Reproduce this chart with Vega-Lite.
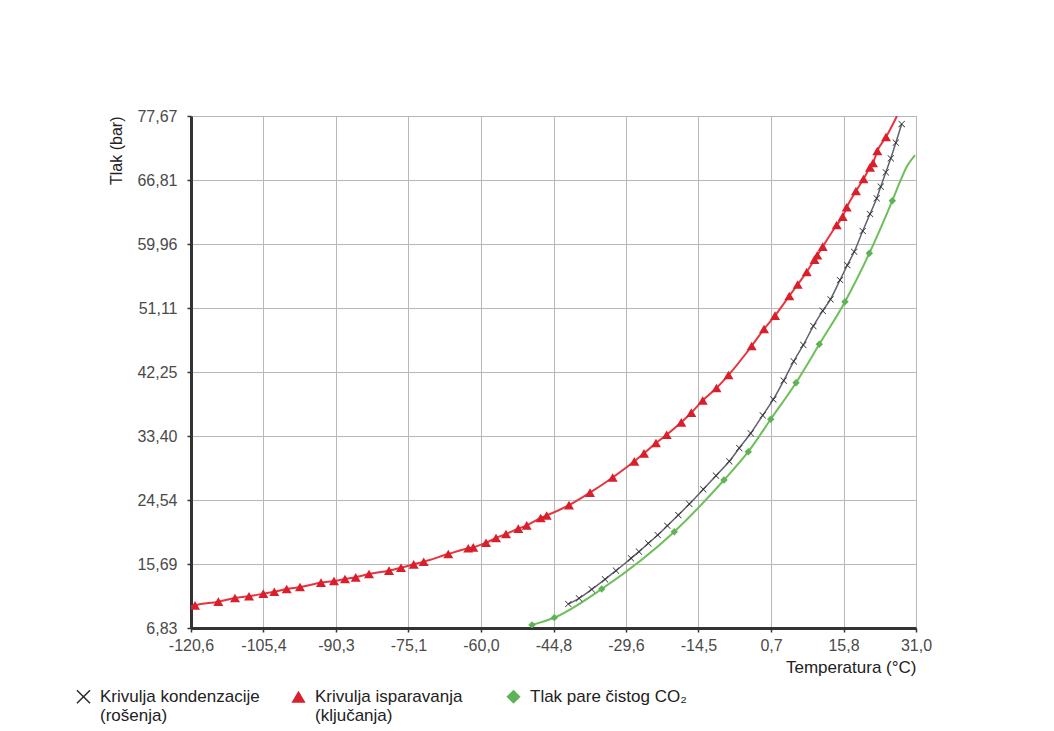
{
  "$schema": "https://vega.github.io/schema/vega-lite/v6.json",
  "width": 725,
  "height": 512,
  "autosize": "none",
  "padding": {"left": 191, "top": 116, "right": 138, "bottom": 103},
  "background": "white",
  "config": {
    "view": {"stroke": "#b8b8b8", "strokeWidth": 1},
    "font": "Liberation Sans",
    "axis": {
      "labelFont": "Liberation Sans",
      "labelFontSize": 16,
      "labelColor": "#4a4a4a",
      "titleFont": "Liberation Sans",
      "titleFontSize": 16,
      "titleFontWeight": "normal",
      "titleColor": "#222222",
      "domainColor": "#333333",
      "domainWidth": 3,
      "tickColor": "#333333",
      "tickSize": 4,
      "tickWidth": 1.5,
      "gridColor": "#b8b8b8",
      "gridWidth": 1,
      "gridOpacity": 1
    }
  },
  "datasets": {
    "curves": [
      {"series": "isparavanje", "T": -120.6, "P": 9.8},
      {"series": "isparavanje", "T": -119.76, "P": 9.97},
      {"series": "isparavanje", "T": -114.89, "P": 10.47},
      {"series": "isparavanje", "T": -111.4, "P": 10.98},
      {"series": "isparavanje", "T": -108.47, "P": 11.22},
      {"series": "isparavanje", "T": -105.48, "P": 11.58},
      {"series": "isparavanje", "T": -103.18, "P": 11.85},
      {"series": "isparavanje", "T": -100.59, "P": 12.23},
      {"series": "isparavanje", "T": -97.81, "P": 12.5},
      {"series": "isparavanje", "T": -93.42, "P": 13.1},
      {"series": "isparavanje", "T": -90.7, "P": 13.33},
      {"series": "isparavanje", "T": -88.4, "P": 13.61},
      {"series": "isparavanje", "T": -86.16, "P": 13.84},
      {"series": "isparavanje", "T": -83.38, "P": 14.3},
      {"series": "isparavanje", "T": -79.2, "P": 14.76},
      {"series": "isparavanje", "T": -76.69, "P": 15.17},
      {"series": "isparavanje", "T": -74.03, "P": 15.64},
      {"series": "isparavanje", "T": -71.94, "P": 16.0},
      {"series": "isparavanje", "T": -66.8, "P": 17.07},
      {"series": "isparavanje", "T": -62.62, "P": 17.86},
      {"series": "isparavanje", "T": -61.57, "P": 17.99},
      {"series": "isparavanje", "T": -58.91, "P": 18.63},
      {"series": "isparavanje", "T": -56.82, "P": 19.28},
      {"series": "isparavanje", "T": -54.73, "P": 19.84},
      {"series": "isparavanje", "T": -52.16, "P": 20.57},
      {"series": "isparavanje", "T": -50.4, "P": 21.04},
      {"series": "isparavanje", "T": -47.48, "P": 22.05},
      {"series": "isparavanje", "T": -46.22, "P": 22.4},
      {"series": "isparavanje", "T": -41.56, "P": 23.82},
      {"series": "isparavanje", "T": -37.17, "P": 25.55},
      {"series": "isparavanje", "T": -32.42, "P": 27.65},
      {"series": "isparavanje", "T": -27.9, "P": 29.89},
      {"series": "isparavanje", "T": -25.88, "P": 31.0},
      {"series": "isparavanje", "T": -23.37, "P": 32.43},
      {"series": "isparavanje", "T": -21.13, "P": 33.57},
      {"series": "isparavanje", "T": -18.08, "P": 35.29},
      {"series": "isparavanje", "T": -15.99, "P": 36.62},
      {"series": "isparavanje", "T": -13.6, "P": 38.31},
      {"series": "isparavanje", "T": -10.72, "P": 40.04},
      {"series": "isparavanje", "T": -8.21, "P": 41.83},
      {"series": "isparavanje", "T": -3.36, "P": 45.85},
      {"series": "isparavanje", "T": -0.78, "P": 48.2},
      {"series": "isparavanje", "T": 1.52, "P": 50.04},
      {"series": "isparavanje", "T": 4.51, "P": 52.77},
      {"series": "isparavanje", "T": 6.26, "P": 54.36},
      {"series": "isparavanje", "T": 8.15, "P": 56.09},
      {"series": "isparavanje", "T": 9.78, "P": 57.79},
      {"series": "isparavanje", "T": 10.36, "P": 58.4},
      {"series": "isparavanje", "T": 11.49, "P": 59.59},
      {"series": "isparavanje", "T": 14.42, "P": 62.59},
      {"series": "isparavanje", "T": 15.67, "P": 63.74},
      {"series": "isparavanje", "T": 16.51, "P": 65.04},
      {"series": "isparavanje", "T": 18.45, "P": 67.29},
      {"series": "isparavanje", "T": 20.02, "P": 68.95},
      {"series": "isparavanje", "T": 21.38, "P": 70.57},
      {"series": "isparavanje", "T": 22.01, "P": 71.17},
      {"series": "isparavanje", "T": 22.91, "P": 72.83},
      {"series": "isparavanje", "T": 24.73, "P": 74.76},
      {"series": "isparavanje", "T": 27.03, "P": 77.67},
      {"series": "kondenzacija", "T": -41.7, "P": 10.15},
      {"series": "kondenzacija", "T": -39.47, "P": 10.94},
      {"series": "kondenzacija", "T": -36.81, "P": 12.18},
      {"series": "kondenzacija", "T": -34.03, "P": 13.57},
      {"series": "kondenzacija", "T": -31.73, "P": 14.76},
      {"series": "kondenzacija", "T": -28.59, "P": 16.47},
      {"series": "kondenzacija", "T": -26.92, "P": 17.39},
      {"series": "kondenzacija", "T": -24.98, "P": 18.55},
      {"series": "kondenzacija", "T": -23.01, "P": 19.7},
      {"series": "kondenzacija", "T": -21.0, "P": 20.98},
      {"series": "kondenzacija", "T": -18.7, "P": 22.46},
      {"series": "kondenzacija", "T": -16.4, "P": 23.99},
      {"series": "kondenzacija", "T": -13.48, "P": 26.02},
      {"series": "kondenzacija", "T": -10.82, "P": 27.9},
      {"series": "kondenzacija", "T": -8.04, "P": 29.89},
      {"series": "kondenzacija", "T": -5.95, "P": 31.73},
      {"series": "kondenzacija", "T": -3.56, "P": 33.77},
      {"series": "kondenzacija", "T": -1.05, "P": 36.26},
      {"series": "kondenzacija", "T": 1.16, "P": 38.45},
      {"series": "kondenzacija", "T": 3.34, "P": 41.07},
      {"series": "kondenzacija", "T": 5.43, "P": 43.73},
      {"series": "kondenzacija", "T": 7.44, "P": 45.99},
      {"series": "kondenzacija", "T": 9.53, "P": 48.61},
      {"series": "kondenzacija", "T": 11.49, "P": 50.72},
      {"series": "kondenzacija", "T": 13.12, "P": 52.31},
      {"series": "kondenzacija", "T": 15.11, "P": 54.98},
      {"series": "kondenzacija", "T": 16.64, "P": 57.03},
      {"series": "kondenzacija", "T": 18.08, "P": 58.89},
      {"series": "kondenzacija", "T": 19.86, "P": 61.76},
      {"series": "kondenzacija", "T": 21.38, "P": 64.11},
      {"series": "kondenzacija", "T": 22.78, "P": 66.28},
      {"series": "kondenzacija", "T": 23.62, "P": 67.89},
      {"series": "kondenzacija", "T": 24.69, "P": 69.88},
      {"series": "kondenzacija", "T": 25.73, "P": 71.82},
      {"series": "kondenzacija", "T": 26.78, "P": 73.98},
      {"series": "kondenzacija", "T": 28.01, "P": 76.56},
      {"series": "CO2", "T": -49.3, "P": 7.25},
      {"series": "CO2", "T": -44.63, "P": 8.26},
      {"series": "CO2", "T": -34.72, "P": 12.23},
      {"series": "CO2", "T": -19.54, "P": 20.15},
      {"series": "CO2", "T": -9.15, "P": 27.31},
      {"series": "CO2", "T": -4.07, "P": 31.22},
      {"series": "CO2", "T": 0.62, "P": 35.71},
      {"series": "CO2", "T": 5.91, "P": 40.77},
      {"series": "CO2", "T": 10.78, "P": 46.08},
      {"series": "CO2", "T": 16.15, "P": 51.98},
      {"series": "CO2", "T": 21.24, "P": 58.67},
      {"series": "CO2", "T": 26.05, "P": 65.95},
      {"series": "CO2", "T": 27.66, "P": 68.58},
      {"series": "CO2", "T": 29.06, "P": 70.65},
      {"series": "CO2", "T": 30.79, "P": 72.27}
    ],
    "points": [
      {"series": "isparavanje", "T": -119.76, "P": 9.97},
      {"series": "isparavanje", "T": -114.89, "P": 10.47},
      {"series": "isparavanje", "T": -111.4, "P": 10.98},
      {"series": "isparavanje", "T": -108.47, "P": 11.22},
      {"series": "isparavanje", "T": -105.48, "P": 11.58},
      {"series": "isparavanje", "T": -103.18, "P": 11.85},
      {"series": "isparavanje", "T": -100.59, "P": 12.23},
      {"series": "isparavanje", "T": -97.81, "P": 12.5},
      {"series": "isparavanje", "T": -93.42, "P": 13.1},
      {"series": "isparavanje", "T": -90.7, "P": 13.33},
      {"series": "isparavanje", "T": -88.4, "P": 13.61},
      {"series": "isparavanje", "T": -86.16, "P": 13.84},
      {"series": "isparavanje", "T": -83.38, "P": 14.3},
      {"series": "isparavanje", "T": -79.2, "P": 14.76},
      {"series": "isparavanje", "T": -76.69, "P": 15.17},
      {"series": "isparavanje", "T": -74.03, "P": 15.64},
      {"series": "isparavanje", "T": -71.94, "P": 16.0},
      {"series": "isparavanje", "T": -66.8, "P": 17.07},
      {"series": "isparavanje", "T": -62.62, "P": 17.86},
      {"series": "isparavanje", "T": -61.57, "P": 17.99},
      {"series": "isparavanje", "T": -58.91, "P": 18.63},
      {"series": "isparavanje", "T": -56.82, "P": 19.28},
      {"series": "isparavanje", "T": -54.73, "P": 19.84},
      {"series": "isparavanje", "T": -52.16, "P": 20.57},
      {"series": "isparavanje", "T": -50.4, "P": 21.04},
      {"series": "isparavanje", "T": -47.48, "P": 22.05},
      {"series": "isparavanje", "T": -46.22, "P": 22.4},
      {"series": "isparavanje", "T": -41.56, "P": 23.82},
      {"series": "isparavanje", "T": -37.17, "P": 25.55},
      {"series": "isparavanje", "T": -32.42, "P": 27.65},
      {"series": "isparavanje", "T": -27.9, "P": 29.89},
      {"series": "isparavanje", "T": -25.88, "P": 31.0},
      {"series": "isparavanje", "T": -23.37, "P": 32.43},
      {"series": "isparavanje", "T": -21.13, "P": 33.57},
      {"series": "isparavanje", "T": -18.08, "P": 35.29},
      {"series": "isparavanje", "T": -15.99, "P": 36.62},
      {"series": "isparavanje", "T": -13.6, "P": 38.31},
      {"series": "isparavanje", "T": -10.72, "P": 40.04},
      {"series": "isparavanje", "T": -8.21, "P": 41.83},
      {"series": "isparavanje", "T": -3.36, "P": 45.85},
      {"series": "isparavanje", "T": -0.78, "P": 48.2},
      {"series": "isparavanje", "T": 1.52, "P": 50.04},
      {"series": "isparavanje", "T": 4.51, "P": 52.77},
      {"series": "isparavanje", "T": 6.26, "P": 54.36},
      {"series": "isparavanje", "T": 8.15, "P": 56.09},
      {"series": "isparavanje", "T": 9.78, "P": 57.79},
      {"series": "isparavanje", "T": 10.36, "P": 58.4},
      {"series": "isparavanje", "T": 11.49, "P": 59.59},
      {"series": "isparavanje", "T": 14.42, "P": 62.59},
      {"series": "isparavanje", "T": 15.67, "P": 63.74},
      {"series": "isparavanje", "T": 16.51, "P": 65.04},
      {"series": "isparavanje", "T": 18.45, "P": 67.29},
      {"series": "isparavanje", "T": 20.02, "P": 68.95},
      {"series": "isparavanje", "T": 21.38, "P": 70.57},
      {"series": "isparavanje", "T": 22.01, "P": 71.17},
      {"series": "isparavanje", "T": 22.91, "P": 72.83},
      {"series": "isparavanje", "T": 24.73, "P": 74.76},
      {"series": "kondenzacija", "T": -41.7, "P": 10.15},
      {"series": "kondenzacija", "T": -39.47, "P": 10.94},
      {"series": "kondenzacija", "T": -36.81, "P": 12.18},
      {"series": "kondenzacija", "T": -34.03, "P": 13.57},
      {"series": "kondenzacija", "T": -31.73, "P": 14.76},
      {"series": "kondenzacija", "T": -28.59, "P": 16.47},
      {"series": "kondenzacija", "T": -26.92, "P": 17.39},
      {"series": "kondenzacija", "T": -24.98, "P": 18.55},
      {"series": "kondenzacija", "T": -23.01, "P": 19.7},
      {"series": "kondenzacija", "T": -21.0, "P": 20.98},
      {"series": "kondenzacija", "T": -18.7, "P": 22.46},
      {"series": "kondenzacija", "T": -16.4, "P": 23.99},
      {"series": "kondenzacija", "T": -13.48, "P": 26.02},
      {"series": "kondenzacija", "T": -10.82, "P": 27.9},
      {"series": "kondenzacija", "T": -8.04, "P": 29.89},
      {"series": "kondenzacija", "T": -5.95, "P": 31.73},
      {"series": "kondenzacija", "T": -3.56, "P": 33.77},
      {"series": "kondenzacija", "T": -1.05, "P": 36.26},
      {"series": "kondenzacija", "T": 1.16, "P": 38.45},
      {"series": "kondenzacija", "T": 3.34, "P": 41.07},
      {"series": "kondenzacija", "T": 5.43, "P": 43.73},
      {"series": "kondenzacija", "T": 7.44, "P": 45.99},
      {"series": "kondenzacija", "T": 9.53, "P": 48.61},
      {"series": "kondenzacija", "T": 11.49, "P": 50.72},
      {"series": "kondenzacija", "T": 13.12, "P": 52.31},
      {"series": "kondenzacija", "T": 15.11, "P": 54.98},
      {"series": "kondenzacija", "T": 16.64, "P": 57.03},
      {"series": "kondenzacija", "T": 18.08, "P": 58.89},
      {"series": "kondenzacija", "T": 19.86, "P": 61.76},
      {"series": "kondenzacija", "T": 21.38, "P": 64.11},
      {"series": "kondenzacija", "T": 22.78, "P": 66.28},
      {"series": "kondenzacija", "T": 23.62, "P": 67.89},
      {"series": "kondenzacija", "T": 24.69, "P": 69.88},
      {"series": "kondenzacija", "T": 25.73, "P": 71.82},
      {"series": "kondenzacija", "T": 26.78, "P": 73.98},
      {"series": "kondenzacija", "T": 28.01, "P": 76.56},
      {"series": "CO2", "T": -49.3, "P": 7.25},
      {"series": "CO2", "T": -44.63, "P": 8.26},
      {"series": "CO2", "T": -34.72, "P": 12.23},
      {"series": "CO2", "T": -19.54, "P": 20.15},
      {"series": "CO2", "T": -9.15, "P": 27.31},
      {"series": "CO2", "T": -4.07, "P": 31.22},
      {"series": "CO2", "T": 0.62, "P": 35.71},
      {"series": "CO2", "T": 5.91, "P": 40.77},
      {"series": "CO2", "T": 10.78, "P": 46.08},
      {"series": "CO2", "T": 16.15, "P": 51.98},
      {"series": "CO2", "T": 21.24, "P": 58.67},
      {"series": "CO2", "T": 26.05, "P": 65.95}
    ]
  },
  "encoding": {
    "x": {
      "field": "T",
      "type": "quantitative",
      "scale": {"domain": [-120.6, 31.0], "nice": false, "zero": false},
      "axis": {
        "title": "Temperatura (°C)",
        "titleFontSize": 17,
        "values": [-120.6, -105.44, -90.28, -75.12, -59.96, -44.8, -29.64, -14.48, 0.68, 15.84, 31.0],
        "labelExpr": "replace(replace(format(datum.value, '.1f'), '.', ','), '−', '-')",
        "labelFlush": false,
        "labelPadding": 5,
        "labelDx": 3,
        "titleAnchor": "end",
        "titlePadding": 6
      }
    },
    "y": {
      "field": "P",
      "type": "quantitative",
      "scale": {"domain": [6.83, 77.67], "nice": false, "zero": false},
      "axis": {
        "title": "Tlak (bar)",
        "values": [6.83, 15.685, 24.54, 33.395, 42.25, 51.105, 59.96, 68.815, 77.67],
        "labelExpr": "datum.value > 68 && datum.value < 69 ? '66,81' : replace(format(datum.value + 0.0001, '.2f'), '.', ',')",
        "labelFlush": false,
        "labelPadding": 10,
        "titleAnchor": "end",
        "titlePadding": 12
      }
    }
  },
  "layer": [
    {
      "data": {"name": "curves"},
      "mark": {"type": "line", "interpolate": "monotone", "clip": true},
      "encoding": {
        "detail": {"field": "series"},
        "stroke": {
          "field": "series",
          "type": "nominal",
          "scale": {"range": ["#6dbf58", "#e8343d", "#5d6270"]},
          "legend": null
        },
        "strokeWidth": {
          "field": "series",
          "type": "nominal",
          "scale": {"type": "ordinal", "range": [2, 2, 1.5]},
          "legend": null
        }
      }
    },
    {
      "data": {"name": "points"},
      "mark": {"type": "point", "filled": true, "opacity": 1, "clip": true},
      "encoding": {
        "color": {
          "field": "series",
          "type": "nominal",
          "scale": {"domain": ["kondenzacija", "isparavanje", "CO2"], "range": ["#2b2b2b", "#d91f2b", "#5db356"]},
          "legend": {
            "title": null,
            "orient": "none",
            "legendX": -116,
            "legendY": 572,
            "direction": "horizontal",
            "columns": 3,
            "gridAlign": "all",
            "columnPadding": 30,
            "padding": 0,
            "symbolSize": 200,
            "labelFont": "Liberation Sans",
            "labelFontSize": 17,
            "labelColor": "#222222",
            "labelLimit": 300,
            "labelOffset": 8,
            "labelExpr": "datum.label == 'kondenzacija' ? ['Krivulja kondenzacije', '(rošenja)'] : datum.label == 'isparavanje' ? ['Krivulja isparavanja', '(ključanja)'] : ['Tlak pare čistog CO₂', '']",
            "encode": {
              "symbols": {"update": {"size": {"signal": "datum.value == 'isparavanje' ? 420 : 150"}}},
              "labels": {"update": {"lineHeight": {"value": 20}}}
            }
          }
        },
        "shape": {
          "field": "series",
          "type": "nominal",
          "scale": {
            "domain": ["kondenzacija", "isparavanje", "CO2"],
            "range": ["M-0.85,-1L0,-0.15L0.85,-1L1,-0.85L0.15,0L1,0.85L0.85,1L0,0.15L-0.85,1L-1,0.85L-0.15,0L-1,-0.85Z", "triangle-up", "diamond"]
          }
        },
        "size": {
          "field": "series",
          "type": "nominal",
          "scale": {"type": "ordinal", "range": [55, 100, 45]},
          "legend": null
        }
      }
    }
  ]
}
